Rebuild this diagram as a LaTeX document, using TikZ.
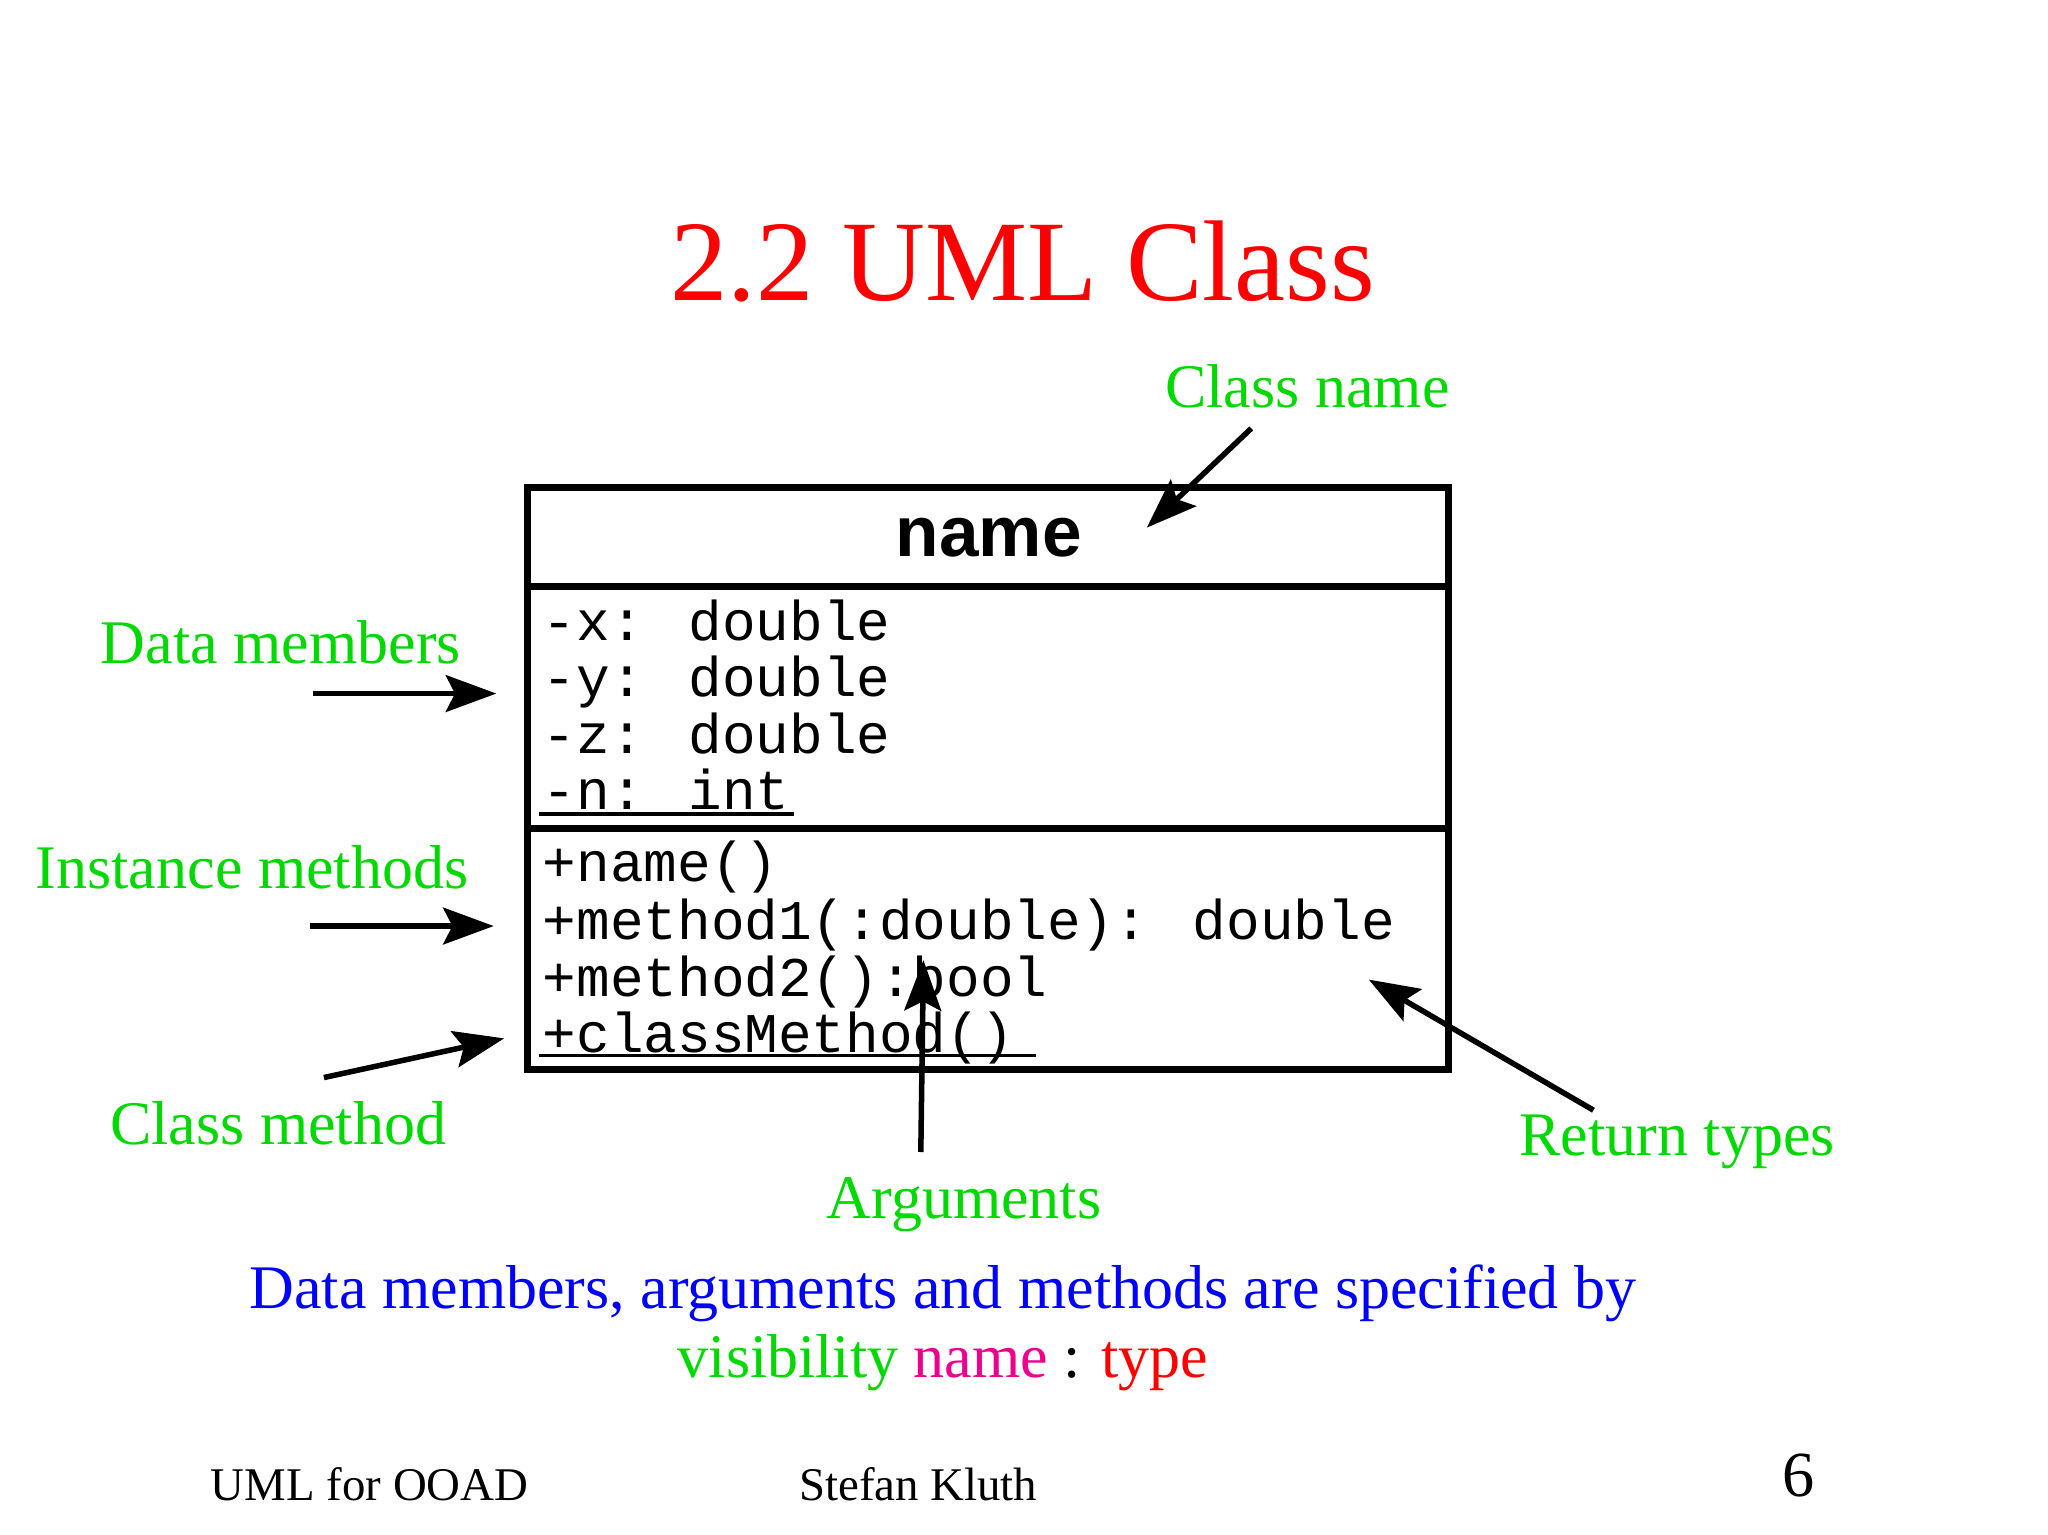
\documentclass[tikz,border=0pt]{standalone}
\usepackage{fontspec}
\setmainfont{Liberation Serif}
\newfontfamily\monof{Liberation Mono}
\newfontfamily\sansf{Liberation Sans}
\usetikzlibrary{arrows.meta}
\begin{document}
\begin{tikzpicture}[x=0.01cm,y=-0.01cm,
  lbl/.style={text=green!85!black,font=\fontsize{13.5}{16}\selectfont,inner sep=0},
  mono/.style={anchor=base west,inner sep=0,font=\monof\fontsize{12.2}{14}\selectfont},
  arr/.style={line width=1.2pt,-{Stealth[length=11pt,width=8pt,inset=2pt]}},
  boxline/.style={line width=1.5pt}]
\useasboundingbox (0,0) rectangle (1568,1175);
\node[text=red,font=\fontsize{25}{30}\selectfont,inner sep=0] (title) at (783,200) {2.2 UML Class};
\draw[boxline] (404,373) rectangle (1109,819);
\draw[boxline] (404,449) -- (1109,449);
\draw[boxline] (404,634) -- (1109,634);
\node[font=\sansf\bfseries\fontsize{15.5}{18}\selectfont,inner sep=0] (nm) at (757,412) {name};
\node[mono] (a1) at (415,490) {-x: double};
\node[mono] (a2) at (415,533) {-y: double};
\node[mono] (a3) at (415,577) {-z: double};
\node[mono] (a4) at (415,620) {-n: int};
\draw[line width=0.8pt] (413,623) -- (608,623);
\node[mono] (m1) at (415,675) {+name()};
\node[mono] (m2) at (415,719) {+method1(:double): double};
\node[mono] (m3) at (415,763) {+method2():bool};
\node[mono] (m4) at (415,806) {+classMethod()};
\draw[line width=0.8pt] (413,808) -- (793,808);
\node[lbl] (lcn) at (1001,296) {Class name};
\node[lbl] (ldm) at (215,492) {Data members};
\node[lbl] (lim) at (193,664) {Instance methods};
\node[lbl] (lcm) at (213,860) {Class method};
\node[lbl] (lar) at (738,922) {Arguments};
\node[lbl] (lrt) at (1284,874) {Return types};
\coordinate (c1s) at (958,328); \coordinate (c1e) at (878,404);
\coordinate (c2s) at (240,531); \coordinate (c2e) at (380,531);
\coordinate (c3s) at (237,709); \coordinate (c3e) at (378,709);
\coordinate (c4s) at (248,825); \coordinate (c4e) at (386,795);
\coordinate (c5s) at (705,882); \coordinate (c5e) at (707,735);
\coordinate (c6s) at (1220,850); \coordinate (c6e) at (1048,750);
\draw[arr] (c1s) -- (c1e);
\draw[arr] (c2s) -- (c2e);
\draw[arr] (c3s) -- (c3e);
\draw[arr] (c4s) -- (c4e);
\draw[arr] (c5s) -- (c5e);
\draw[arr] (c6s) -- (c6e);
\node[text=blue,font=\fontsize{13.5}{16}\selectfont,inner sep=0] (b1) at (722,990) {Data members, arguments and methods are specified by};
\node[font=\fontsize{13.5}{16}\selectfont,inner sep=0] (b2) at (722,1043) {\textcolor{green!85!black}{visibility} \textcolor{magenta}{name} : \textcolor{red}{type}};
\node[font=\fontsize{10.2}{12}\selectfont,inner sep=0] (f1) at (283,1136) {UML for OOAD};
\node[font=\fontsize{10.2}{12}\selectfont,inner sep=0] (f2) at (703,1136) {Stefan Kluth};
\node[font=\fontsize{14}{17}\selectfont,inner sep=0] (f3) at (1377,1130) {6};
\end{tikzpicture}
\end{document}
